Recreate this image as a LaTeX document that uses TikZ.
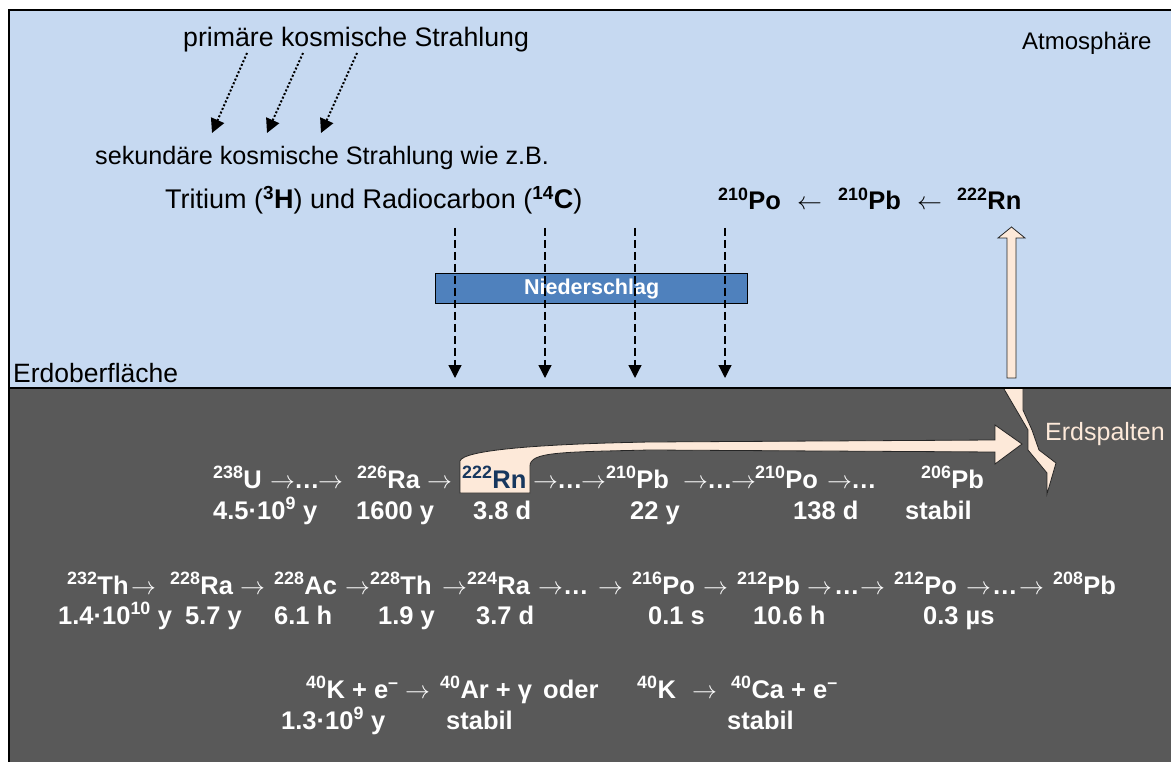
\documentclass[tikz,border=0pt]{standalone}
\usepackage{fontspec}
\setmainfont{Liberation Sans}
\usetikzlibrary{arrows.meta}
\definecolor{sky}{HTML}{C6D9F1}
\definecolor{ground}{HTML}{595959}
\definecolor{rainbox}{HTML}{4F81BD}
\definecolor{peach}{HTML}{FDE9D9}
\definecolor{rnblue}{HTML}{17375E}
\definecolor{edgegray}{HTML}{262626}
\newcommand\sps[1]{\textsuperscript{#1}}
\newcommand\fsz{\fontsize{25.5}{30}\selectfont}
\newcommand\fsr[1]{\fontsize{#1}{30}\selectfont}
\tikzset{
 txt/.style={anchor=base west, inner sep=0pt, font=\fsz},
 wt/.style={txt, text=white, font=\fsz\bfseries},
 war/.style={txt, text=white, font=\fontsize{23}{28}\selectfont},
 bk/.style={txt, font=\fsz\bfseries},
 bar/.style={txt, font=\fontsize{23}{28}\selectfont},
 dotarrow/.style={line width=2pt, dash pattern=on 2pt off 2pt, -{Triangle[length=14pt,width=14pt]}},
 dasharrow/.style={line width=1.3pt, dash pattern=on 8pt off 4pt, -{Triangle[length=13pt,width=13pt]}},
 blockarrow/.style={fill=peach, draw=edgegray, line width=0.8pt, line join=miter},
}
\begin{document}
\begin{tikzpicture}[x=1pt,y=-1pt]
\useasboundingbox (0,0) rectangle (1171,762);
% background
\fill[sky] (9,10) rectangle (1171,388);
\fill[ground] (9,388) rectangle (1171,762);
\draw[line width=2pt] (9,762) -- (9,10) -- (1171,10);
\draw[line width=2pt] (9,388) -- (1171,388);

% top texts
\node[txt, font=\fsr{26.7}] (prim) at (183,47) {primäre kosmische Strahlung};
\node[txt, font=\fsr{24}] (atmo) at (1022,50) {Atmosphäre};
\node[txt, font=\fsr{25.2}] (sek) at (95,165) {sekundäre kosmische Strahlung wie z.B.};
\node[txt, font=\fsr{27}] (trit) at (165,209) {Tritium (\textbf{\sps{3}H}) und Radiocarbon (\textbf{\sps{14}C})};
\node[txt, font=\fsr{26.5}] (erdo) at (13,382) {Erdoberfläche};

% dotted arrows
\coordinate (c1s) at (247,53); \coordinate (c1e) at (212,133);
\coordinate (c2s) at (303,53); \coordinate (c2e) at (267,133);
\coordinate (c3s) at (357,53); \coordinate (c3e) at (321,133);
\draw[dotarrow] (c1s) -- (c1e);
\draw[dotarrow] (c2s) -- (c2e);
\draw[dotarrow] (c3s) -- (c3e);

% top chain
\node[bk] (tpo) at (718,210) {\sps{210}Po};
\node[bar] (tl1) at (797,210) {$\leftarrow$};
\node[bk] (tpb) at (838,210) {\sps{210}Pb};
\node[bar] (tl2) at (917,210) {$\leftarrow$};
\node[bk] (trn) at (957,210) {\sps{222}Rn};

% Niederschlag
\node[draw=black, line width=1.3pt, fill=rainbox, anchor=north west, minimum width=312pt, minimum height=30pt, inner sep=0pt, text=white, font=\fontsize{21.5}{24}\selectfont\bfseries] (nied) at (435,273) {Niederschlag};
\foreach \i/\xx in {1/455,2/545,3/635,4/725}{
  \coordinate (d\i s) at (\xx,228);
  \coordinate (d\i e) at (\xx,378);
  \draw[dasharrow] (d\i s) -- (d\i e);
}

% up block arrow
\draw[blockarrow] (1007,378) -- (1007,238) -- (998,238) -- (1011.5,227) -- (1025,238) -- (1016,238) -- (1016,378) -- cycle;

% crack
\fill[peach] (1004,389) -- (1028,430) -- (1028,450) -- (1047,473) -- (1047,494) -- (1056,463) -- (1039,450) -- (1032,430) -- (1023,410) -- (1023,389) -- cycle;
\draw[edgegray, line width=0.8pt, line join=miter] (1004,389) -- (1028,430) -- (1028,450) -- (1047,473) -- (1047,494) -- (1056,463) -- (1039,450) -- (1032,430) -- (1023,410) -- (1023,389);
\node[txt, text=peach, font=\fsr{25}] (spalt) at (1045,440) {Erdspalten};

% curved arrow from Rn
\draw[blockarrow] (460,493) -- (460,461) .. controls (463,450) and (540,444) .. (650,442) -- (995,440) -- (995,425) -- (1022,444) -- (995,464) -- (995,452) -- (650,450) .. controls (560,452) and (530,452) .. (530,466) -- (530,493) -- cycle;

% row 1
\node[wt] (u238) at (213,488) {\sps{238}U};
\node[war] (r1a1) at (270,488) {$\rightarrow$};
\node[wt] (r1d1) at (294,488) {…};
\node[war] (r1a2) at (318,488) {$\rightarrow$};
\node[wt] (ra226) at (357,488) {\sps{226}Ra};
\node[war] (r1a3) at (427,488) {$\rightarrow$};
\node[txt, font=\fsz\bfseries, text=rnblue] (rn222) at (462,488) {\sps{222}Rn};
\node[war] (r1a4) at (533,488) {$\rightarrow$};
\node[wt] (r1d2) at (557,488) {…};
\node[war] (r1a5) at (581,488) {$\rightarrow$};
\node[wt] (pb210) at (606,488) {\sps{210}Pb};
\node[war] (r1a6) at (683,488) {$\rightarrow$};
\node[wt] (r1d3) at (707,488) {…};
\node[war] (r1a7) at (731,488) {$\rightarrow$};
\node[wt] (po210) at (755,488) {\sps{210}Po};
\node[war] (r1a8) at (827,488) {$\rightarrow$};
\node[wt] (r1d4) at (851,488) {…};
\node[wt] (pb206) at (921,488) {\sps{206}Pb};
\node[wt] (h11) at (213,519) {4.5·10\sps{9} y};
\node[wt] (h12) at (356,519) {1600 y};
\node[wt] (h13) at (473,519) {3.8 d};
\node[wt] (h14) at (630,519) {22 y};
\node[wt] (h15) at (793,519) {138 d};
\node[wt] (h16) at (905,519) {stabil};

% row 2
\node[wt] (th232) at (67,594) {\sps{232}Th};
\node[war] (r2a1) at (131,594) {$\rightarrow$};
\node[wt] (ra228) at (170,594) {\sps{228}Ra};
\node[war] (r2a2) at (240,594) {$\rightarrow$};
\node[wt] (ac228) at (274,594) {\sps{228}Ac};
\node[war] (r2a3) at (345,594) {$\rightarrow$};
\node[wt] (th228) at (370,594) {\sps{228}Th};
\node[war] (r2a4) at (442,594) {$\rightarrow$};
\node[wt] (ra224) at (467,594) {\sps{224}Ra};
\node[war] (r2a5) at (538,594) {$\rightarrow$};
\node[wt] (r2d1) at (563,594) {…};
\node[war] (r2a6) at (598,594) {$\rightarrow$};
\node[wt] (po216) at (632,594) {\sps{216}Po};
\node[war] (r2a7) at (703,594) {$\rightarrow$};
\node[wt] (pb212) at (737,594) {\sps{212}Pb};
\node[war] (r2a8) at (807,594) {$\rightarrow$};
\node[wt] (r2d2) at (834,594) {…};
\node[war] (r2a9) at (860,594) {$\rightarrow$};
\node[wt] (po212) at (894,594) {\sps{212}Po};
\node[war] (r2a10) at (966,594) {$\rightarrow$};
\node[wt] (r2d3) at (992,594) {…};
\node[war] (r2a11) at (1019,594) {$\rightarrow$};
\node[wt] (pb208) at (1053,594) {\sps{208}Pb};
\node[wt] (h21) at (58,624) {1.4·10\sps{10} y};
\node[wt] (h22) at (185,624) {5.7 y};
\node[wt] (h23) at (274,624) {6.1 h};
\node[wt] (h24) at (378,624) {1.9 y};
\node[wt] (h25) at (476,624) {3.7 d};
\node[wt] (h26) at (648,624) {0.1 s};
\node[wt] (h27) at (753,624) {10.6 h};
\node[wt] (h28) at (923,624) {0.3 µs};

% row 3
\node[wt] (k40a) at (306,698) {\sps{40}K + e\sps{–}};
\node[war] (r3a1) at (405,698) {$\rightarrow$};
\node[wt] (ar40) at (440,698) {\sps{40}Ar + γ};
\node[wt] (oder) at (543,698) {oder};
\node[wt] (k40b) at (637,698) {\sps{40}K};
\node[war] (r3a2) at (692,698) {$\rightarrow$};
\node[wt] (ca40) at (731,698) {\sps{40}Ca + e\sps{–}};
\node[wt] (h31) at (281,729) {1.3·10\sps{9} y};
\node[wt] (h32) at (446,729) {stabil};
\node[wt] (h33) at (727,729) {stabil};
\end{tikzpicture}
\end{document}
